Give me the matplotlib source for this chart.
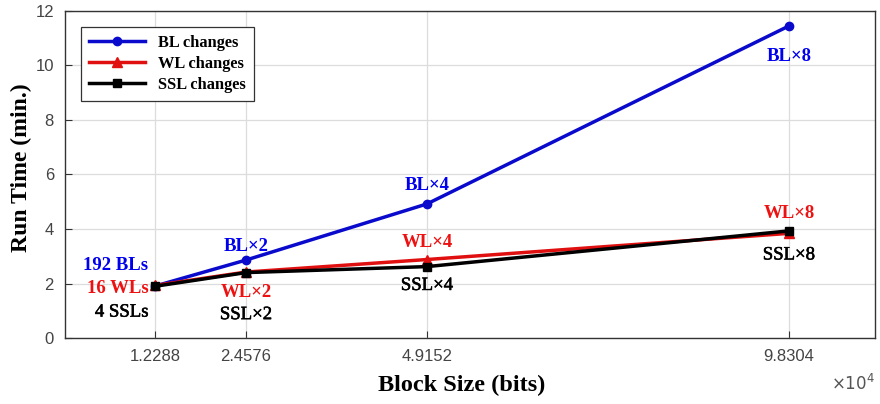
import matplotlib.pyplot as plt
import matplotlib.patheffects as pe

# block sizes in bits and run times in minutes
block_size = [12288, 24576, 49152, 98304]
bl_time = [1.91, 2.86, 4.92, 11.45]
wl_time = [1.93, 2.42, 2.88, 3.84]
ssl_time = [1.90, 2.40, 2.62, 3.93]

bl_labels = ["192 BLs", "BL×2", "BL×4", "BL×8"]
wl_labels = ["16 WLs", "WL×2", "WL×4", "WL×8"]
ssl_labels = ["4 SSLs", "SSL×2", "SSL×4", "SSL×8"]

serif = ["Liberation Serif", "DejaVu Serif"]
sans = ["Liberation Sans", "DejaVu Sans"]
blue, red = "#0000ee", "#ee1111"

fig = plt.figure(figsize=(8.8, 4.04), dpi=100)
ax = fig.add_axes([65 / 880, 1 - 338 / 404, 810 / 880, 327 / 404])

ax.plot(block_size, bl_time, color="#0a0acc", lw=2.5, marker="o", ms=6,
        label="BL changes", zorder=3)
ax.plot(block_size, wl_time, color="#e01010", lw=2.5, marker="^", ms=7,
        label="WL changes", zorder=3)
ax.plot(block_size, ssl_time, color="black", lw=2.5, marker="s", ms=5.5,
        label="SSL changes", zorder=4)

ax.set_xlim(0, 110000)
ax.set_ylim(0, 12)
ax.set_xticks(block_size)
ax.set_xticklabels(["1.2288", "2.4576", "4.9152", "9.8304"])
ax.set_yticks(range(0, 13, 2))
ax.grid(True, color="#dcdcdc", lw=0.9)
ax.set_axisbelow(True)
ax.tick_params(direction="in", length=5, labelsize=12, labelcolor="#444444",
               color="#333333", pad=8)
for lab in ax.get_xticklabels() + ax.get_yticklabels():
    lab.set_family(sans)
for sp in ax.spines.values():
    sp.set_color("#333333")
    sp.set_linewidth(1.0)

ax.set_xlabel("Block Size (bits)", family=serif, fontsize=17.5, fontweight="bold")
ax.set_ylabel("Run Time (min.)", family=serif, fontsize=17, fontweight="bold")
ax.xaxis.set_label_coords(0.49, -0.112)
ax.yaxis.set_label_coords(-0.041, 0.52)
fig.text(853 / 880, 1 - 383 / 404, r"$\times10^4$", ha="center", va="center",
         fontsize=12, color="#555555", family=sans)

fs = 13.5
bold = dict(family=serif, fontsize=fs, fontweight="bold")
# black labels are a touch lighter than the coloured ones
plain = dict(family=serif, fontsize=fs, fontweight="normal",
             path_effects=[pe.withStroke(linewidth=0.4, foreground="black")])

# labels at the first point sit to the left of the marker
x0 = block_size[0] - 950
ax.text(x0, bl_time[0] + 0.45, bl_labels[0], color=blue, ha="right",
        va="bottom", **bold)
ax.text(x0, wl_time[0] - 0.1, wl_labels[0], color=red, ha="right",
        va="center", **bold)
ax.text(x0, ssl_time[0] - 0.95, ssl_labels[0], color="black", ha="right",
        va="center", **plain)

# remaining labels are centred on their markers
ax.text(block_size[1], bl_time[1] + 0.2, bl_labels[1], color=blue,
        ha="center", va="bottom", **bold)
ax.text(block_size[1], wl_time[1] - 0.45, wl_labels[1], color=red,
        ha="center", va="top", **bold)
ax.text(block_size[1], ssl_time[1] - 1.23, ssl_labels[1], color="black",
        ha="center", va="top", **plain)

ax.text(block_size[2], bl_time[2] + 0.35, bl_labels[2], color=blue,
        ha="center", va="bottom", **bold)
ax.text(block_size[2], wl_time[2] + 0.3, wl_labels[2], color=red,
        ha="center", va="bottom", **bold)
ax.text(block_size[2], ssl_time[2] - 0.38, ssl_labels[2], color="black",
        ha="center", va="top", **plain)

ax.text(block_size[3], bl_time[3] - 0.82, bl_labels[3], color=blue,
        ha="center", va="top", **bold)
ax.text(block_size[3], wl_time[3] + 0.4, wl_labels[3], color=red,
        ha="center", va="bottom", **bold)
ax.text(block_size[3], ssl_time[3] - 0.57, ssl_labels[3], color="black",
        ha="center", va="top", **plain)

leg = ax.legend(loc="upper left", bbox_to_anchor=(16 / 810, 1 - 16 / 327),
                borderaxespad=0,
                prop={"family": serif, "size": 11.8, "weight": "bold"},
                fancybox=False, edgecolor="#333333", framealpha=1,
                handlelength=3.4, borderpad=0.5, labelspacing=0.3)
leg.get_frame().set_linewidth(0.9)

fig.savefig("out.png", dpi=100)
